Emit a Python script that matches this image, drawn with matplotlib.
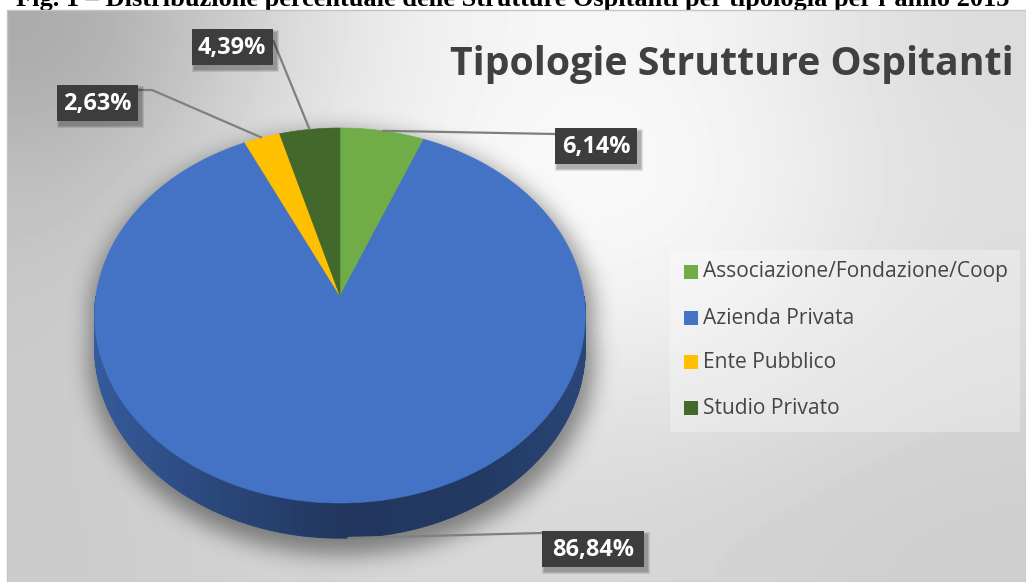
import numpy as np
import matplotlib
matplotlib.use("Agg")
import matplotlib.pyplot as plt
from matplotlib.patches import Polygon, Rectangle
from matplotlib.path import Path

# ---------------- data ----------------
categories = ["Associazione/Fondazione/Coop", "Azienda Privata", "Ente Pubblico", "Studio Privato"]
percent = [6.14, 86.84, 2.63, 4.39]
value_labels = ["6,14%", "86,84%", "2,63%", "4,39%"]
colors = ["#70AD47", "#4472C4", "#FFC000", "#43682B"]
title = "Tipologie Strutture Ospitanti"
caption = "Fig. 1 \u2013 Distribuzione percentuale delle Strutture Ospitanti per tipologia per l\u2019anno 2013"

# ---------------- layout ----------------
W, H = 1026, 582
fig = plt.figure(figsize=(W / 100, H / 100), dpi=100)
ax = fig.add_axes([0, 0, 1, 1])
ax.set_xlim(0, W)
ax.set_ylim(H, 0)
ax.axis("off")
fig.canvas.draw()
R = fig.canvas.get_renderer()


def fit(t, width):
    bb = t.get_window_extent(R)
    t.set_fontsize(t.get_fontsize() * width / bb.width)
    return t.get_fontsize()


# caption (cut at the top of the picture, as in the reference)
cap = ax.text(513, 6, caption, ha="center", va="baseline", family="Liberation Serif",
              weight="bold", fontsize=16, color="black", zorder=1)
fit(cap, 1000)

# background of chart area (soft radial-like grey gradient)
bg = np.array([
    [168, 228, 248, 245, 218],
    [190, 235, 252, 250, 222],
    [200, 228, 245, 242, 218],
    [203, 218, 228, 225, 212],
    [203, 212, 216, 212, 205],
], dtype=float)
ax.imshow(bg, cmap="gray", vmin=0, vmax=255, extent=(7, W, H, 10), interpolation="bicubic",
          aspect="auto", zorder=2)
ax.add_patch(Rectangle((7, 10), W - 7, H - 10, fill=False, edgecolor="#c4c4c4", lw=1, zorder=3))

# ---------------- 3D pie geometry ----------------
cx, cy, a, b, k, D = 340, 296, 244, 185.5, 0.104, 31.4


def proj(theta, z=0.0):
    th = np.radians(theta)
    X = np.sin(th)
    Y = -np.cos(th)
    s = 1.0 / (1 - k * Y)
    return cx + a * X * s, cy + b * Y * s + z * D * s


bounds = np.concatenate([[0], np.cumsum(percent)]) * 3.6

# shadow of pie
tb = np.linspace(-90, 90, 200)
tf = np.linspace(90, 270, 200)
x1, y1 = proj(tb)
x2, y2 = proj(tf, 1.0)
sil = np.column_stack([np.concatenate([x1, x2]), np.concatenate([y1, y2])])
sil = (sil - [cx, cy + 20]) * 1.03 + [cx + 2, cy + 20 + 10]
gx, gy = np.meshgrid(np.arange(W) + 0.5, np.arange(H) + 0.5)
mask = Path(sil).contains_points(np.column_stack([gx.ravel(), gy.ravel()])).reshape(H, W).astype(float)
sig = 11
kx = np.arange(-3 * sig, 3 * sig + 1)
kern = np.exp(-kx ** 2 / (2 * sig ** 2))
kern /= kern.sum()
mask = np.apply_along_axis(lambda m: np.convolve(m, kern, mode="same"), 1, mask)
mask = np.apply_along_axis(lambda m: np.convolve(m, kern, mode="same"), 0, mask)
shadow = np.zeros((H, W, 4))
shadow[..., 3] = 0.42 * mask
ax.imshow(shadow, extent=(0, W, H, 0), aspect="auto", zorder=4, interpolation="nearest")


# side of the pie (front half)
def slice_of(theta):
    return int(np.clip(np.searchsorted(bounds, theta, side="right") - 1, 0, len(percent) - 1))


side_t = np.arange(90, 270.001, 1.0)
for t0, t1 in zip(side_t[:-1], side_t[1:]):
    tm = 0.5 * (t0 + t1)
    X = np.sin(np.radians(tm))
    f = np.interp(X, [-1, -0.5, 0, 0.5, 1], [0.80, 0.64, 0.48, 0.50, 0.62])
    base = np.array(matplotlib.colors.to_rgb(colors[slice_of(tm)]))
    c = np.clip(base * f, 0, 1)
    xa, ya = proj(np.array([t0, t1]))
    xb, yb = proj(np.array([t1, t0]), 1.0)
    ax.add_patch(Polygon(np.column_stack([np.concatenate([xa, xb]), np.concatenate([ya, yb])]),
                         closed=True, facecolor=c, edgecolor=c, lw=0.8, zorder=5))

# top face
for i in range(len(percent)):
    th = np.linspace(bounds[i], bounds[i + 1], max(int((bounds[i + 1] - bounds[i]) * 2), 4))
    xs, ys = proj(th)
    pts = np.column_stack([np.concatenate([[cx], xs]), np.concatenate([[cy], ys])])
    ax.add_patch(Polygon(pts, closed=True, facecolor=colors[i], edgecolor=colors[i], lw=0.4, zorder=6))

# ---------------- data labels ----------------
# (center x, center y, width) of each label box, and elbow points of leader lines
box = {0: (596, 146, 82), 1: (593, 549, 102), 2: (97, 103, 81), 3: (232, 47, 81)}
box_h = 36
line_start = {0: [(555, 134)], 1: [(542, 533)], 2: [(138, 90), (152, 90)], 3: [(273, 40)]}

mids = 0.5 * (bounds[:-1] + bounds[1:])
for i in range(len(percent)):
    m = mids[i]
    z = 1.0 if np.cos(np.radians(m)) < 0 else 0.0
    ex, ey = proj(m, z)
    pts = line_start[i] + [(float(ex), float(ey))]
    ax.plot([p[0] for p in pts], [p[1] for p in pts], color="#7f7f7f", lw=1.6, zorder=7,
            solid_capstyle="butt")

lab_texts = []
for i in range(len(percent)):
    bx, by, bw = box[i]
    for j, al in enumerate([0.10, 0.10, 0.12]):
        g = 3 - j
        ax.add_patch(Rectangle((bx - bw / 2 + 3 - g, by - box_h / 2 + 4 - g), bw + 2 * g, box_h + 2 * g,
                               facecolor="black", alpha=al, edgecolor="none", zorder=8))
    ax.add_patch(Rectangle((bx - bw / 2, by - box_h / 2), bw, box_h, facecolor="#3d3d3d",
                           edgecolor="none", zorder=9))
    lab_texts.append(ax.text(bx, by + 1, value_labels[i], ha="center", va="center", color="white",
                             family="Open Sans", weight="bold", fontsize=17, zorder=10))
lab_size = fit(lab_texts[1], 82)
for t in lab_texts:
    t.set_fontsize(lab_size)

# ---------------- title ----------------
tt = ax.text(450, 75, title, ha="left", va="baseline", color="#404040", family="Open Sans",
             weight="bold", fontsize=30, zorder=10)
fit(tt, 563)

# ---------------- legend ----------------
ax.add_patch(Rectangle((670, 250), 350, 182, facecolor="white", alpha=0.3, edgecolor="none", zorder=8))
leg_y = [272, 318, 362, 408]
leg_texts = []
for i, cat in enumerate(categories):
    ax.add_patch(Rectangle((684, leg_y[i] - 7), 14, 14, facecolor=colors[i], edgecolor="none", zorder=9))
    leg_texts.append(ax.text(703, leg_y[i], cat, ha="left", va="center", color="#454545",
                             family="Open Sans", fontsize=13, zorder=10))
ls = fit(leg_texts[0], 305)
for t in leg_texts:
    t.set_fontsize(ls)

ax.set_xlim(0, W)
ax.set_ylim(H, 0)
fig.savefig("out.png", dpi=100)
